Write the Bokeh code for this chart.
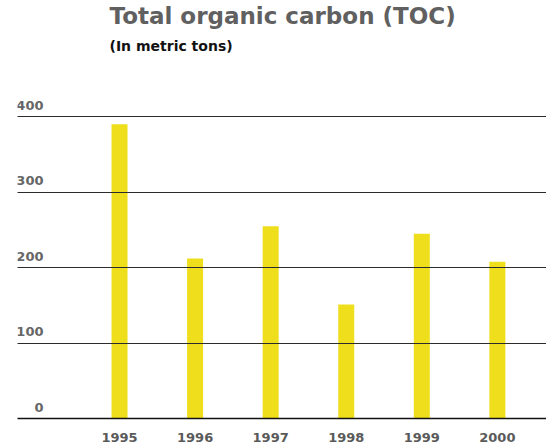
from bokeh.plotting import figure
from bokeh.models import Range1d, FixedTicker, Title, LabelSet, ColumnDataSource
from bokeh.core.properties import value
from bokeh.embed import file_html
from bokeh.resources import INLINE

# ---- data ----
years = ["1995", "1996", "1997", "1998", "1999", "2000"]
toc = [390, 212, 255, 151, 245, 208]
y_ticks = [0, 100, 200, 300, 400]
y_tick_labels = ["0", "100", "200", "300", "400"]

title_text = "Total organic carbon (TOC)"
subtitle_text = "(In metric tons)"

# ---- styling ----
BAR_COLOR = "#EFDE1C"
FONT = "DejaVu Sans"
X_START, X_END = -1.35, 5.65
Y_END = 476

xs = list(range(len(years)))

p = figure(
    frame_width=529, frame_height=359,
    x_range=Range1d(X_START, X_END), y_range=Range1d(0, Y_END),
    output_backend="svg", toolbar_location=None,
    min_border_left=17, min_border_right=0, min_border_top=0, min_border_bottom=0,
)
p.outline_line_color = None
p.background_fill_color = "white"

p.vbar(x=xs, top=toc, width=16 / 75.57, color=BAR_COLOR, line_color=None)

# grid over the bars
p.xgrid.visible = False
p.yaxis.visible = False
p.ygrid.ticker = FixedTicker(ticks=y_ticks[1:])
p.ygrid.grid_line_color = "#2b2b2b"
p.ygrid.grid_line_width = 1.2
p.ygrid.level = "overlay"

# x axis
ax = p.xaxis[0]
ax.ticker = FixedTicker(ticks=xs)
ax.major_label_overrides = {i: y for i, y in zip(xs, years)}
ax.major_tick_line_color = None
ax.minor_tick_line_color = None
ax.axis_line_color = "#111111"
ax.axis_line_width = 1.5
ax.major_label_text_font = FONT
ax.major_label_text_font_style = "bold"
ax.major_label_text_font_size = "13px"
ax.major_label_text_color = "#5a5a5a"
ax.major_label_standoff = 8

# y tick labels inside the plot, above grid lines
label_x = X_START + 26 / 75.57
src = ColumnDataSource(dict(x=[label_x] * len(y_ticks), y=y_ticks, text=y_tick_labels))
labels = LabelSet(x="x", y="y", text="text", source=src, text_align="right",
                  text_baseline="alphabetic", y_offset=7,
                  text_font=value(FONT), text_font_style="bold", text_font_size="13px",
                  text_color="#666666")
p.add_layout(labels)

# titles (subtitle added first so it sits closer to the frame)
sub = Title(text=subtitle_text, align="left", offset=92, text_font=FONT,
            text_font_style="bold", text_font_size="14px", text_color="#111111",
            standoff=12)
p.add_layout(sub, "above")
main = Title(text=title_text, align="left", offset=92, text_font=FONT,
             text_font_style="bold", text_font_size="23px", text_color="#606060",
             standoff=1)
p.add_layout(main, "above")

open("out.html", "w").write(file_html(p, INLINE))
